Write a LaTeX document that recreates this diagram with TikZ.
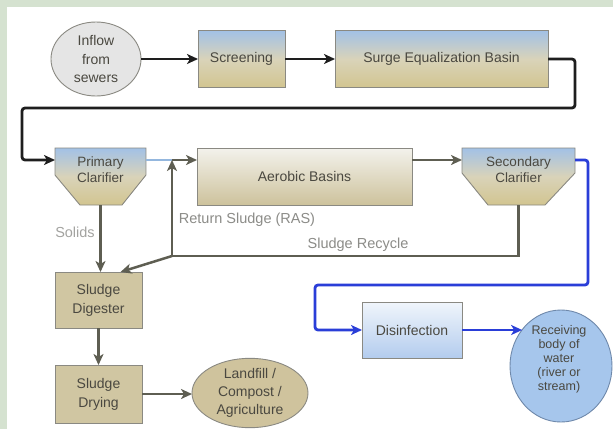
\documentclass[tikz,border=0pt]{standalone}
\usepackage{fontspec}
\setmainfont{Liberation Sans}
\usetikzlibrary{arrows.meta,calc,shapes.geometric}
\definecolor{bggreen}{HTML}{D5E2D0}
\definecolor{boxborder}{HTML}{8A8982}
\definecolor{txt}{HTML}{4A4840}
\definecolor{lblc}{HTML}{8C8C88}
\definecolor{skyb}{HTML}{A2C1E6}
\definecolor{khaki}{HTML}{D2C590}
\definecolor{khakimid}{HTML}{D9D3B9}
\definecolor{sludgefill}{HTML}{D0C6A2}
\definecolor{cblack}{HTML}{1E1E1E}
\definecolor{cgray}{HTML}{5E5E52}
\definecolor{cblue}{HTML}{2A3ED8}
\definecolor{paleblue}{HTML}{94B7DE}
\definecolor{recfill}{HTML}{A6C6EC}
\definecolor{recborder}{HTML}{6E88AA}
\definecolor{inflowfill}{HTML}{E5E5E5}
\definecolor{aerotop}{HTML}{F3F2EC}
\definecolor{aerobot}{HTML}{CDC29C}
\definecolor{distop}{HTML}{F0F5FB}
\definecolor{disbot}{HTML}{B3CCEE}
\definecolor{landfill}{HTML}{CFC39D}
\begin{document}
\begin{tikzpicture}[x=1pt,y=-1pt,
  every node/.style={inner sep=0pt, outer sep=0pt, align=center, text=txt,
    font=\fontsize{14}{17}\selectfont},
  procbox/.style={rectangle, draw=boxborder, line width=0.9pt,
    top color=skyb, bottom color=khaki, middle color=khakimid},
  aerobox/.style={rectangle, draw=boxborder, line width=0.9pt,
    top color=aerotop, bottom color=aerobot},
  sludgebox/.style={rectangle, draw=boxborder, line width=0.9pt, fill=sludgefill},
  disbox/.style={rectangle, draw=boxborder, line width=0.9pt,
    top color=distop, bottom color=disbot},
  clarframe/.style={rectangle},
  clarfill/.style={draw=boxborder, line width=0.9pt,
    top color=skyb, bottom color=khaki, middle color=khakimid},
  clartext/.style={font=\fontsize{13.5}{16}\selectfont},
  inflowstyle/.style={ellipse, draw=boxborder, line width=0.9pt, fill=inflowfill,
    font=\fontsize{14}{18.5}\selectfont},
  landstyle/.style={ellipse, draw=boxborder, line width=0.9pt, fill=landfill,
    font=\fontsize{14}{18}\selectfont},
  recstyle/.style={ellipse, draw=recborder, line width=0.9pt, fill=recfill},
  rectext/.style={font=\fontsize{12.5}{14}\selectfont},
  blackflow/.style={draw=cblack, line width=2.8pt, rounded corners=3pt},
  grayflow/.style={draw=cgray, line width=2.5pt},
  blueflow/.style={draw=cblue, line width=2.8pt, rounded corners=3pt},
  paleflow/.style={draw=paleblue, line width=2.2pt},
  tip/.style={-{Stealth[length=11pt,width=10pt,inset=3pt]}},
  lbl/.style={text=lblc, font=\fontsize{14.5}{17}\selectfont}
]
\useasboundingbox (0,0) rectangle (613,429);
\fill[bggreen] (0,0) rectangle (613,429);
\fill[white] (7,7) rectangle (613,429);

% top row
\node[inflowstyle, minimum width=90pt, minimum height=74pt] (inflow) at (96,59) {Inflow\\from\\sewers};
\node[procbox, minimum width=87pt, minimum height=57pt] (scr) at (241.5,59) {Screening};
\node[procbox, minimum width=213pt, minimum height=57pt] (surge) at (441.5,59) {Surge Equalization Basin};

% second row
\node[clarframe, minimum width=91pt, minimum height=57pt] (pri) at (100.5,176.5) {};
\path[clarfill] (pri.north west) -- (pri.north east) -- ($(pri.north east)+(0,27)$)
  -- ($(pri.south east)+(-24,0)$) -- ($(pri.south west)+(25,0)$)
  -- ($(pri.north west)+(0,27)$) -- cycle;
\node[clartext] (pritxt) at ($(pri.north)+(0,22)$) {Primary\\Clarifier};

\node[aerobox, minimum width=215pt, minimum height=57pt] (aer) at (304.5,176.5) {Aerobic Basins};

\node[clarframe, minimum width=113pt, minimum height=57pt] (sec) at (518.5,176.5) {};
\path[clarfill] (sec.north west) -- (sec.north east) -- ($(sec.north east)+(0,25)$)
  -- ($(sec.south east)+(-30,0)$) -- ($(sec.south west)+(26,0)$)
  -- ($(sec.north west)+(0,25)$) -- cycle;
\node[clartext] (sectxt) at ($(sec.north)+(0,22)$) {Secondary\\Clarifier};

% sludge column
\node[sludgebox, minimum width=87pt, minimum height=56pt, font=\fontsize{14}{19}\selectfont] (dig) at (98.5,300) {Sludge\\Digester};
\node[sludgebox, minimum width=87pt, minimum height=58pt, font=\fontsize{14}{19}\selectfont] (dry) at (98.5,394) {Sludge\\Drying};
\node[landstyle, minimum width=116pt, minimum height=68pt] (land) at (250,393) {Landfill /\\Compost /\\Agriculture};

% effluent
\node[disbox, minimum width=100pt, minimum height=56pt] (dis) at (412,330) {Disinfection};
\node[recstyle, minimum width=102pt, minimum height=112pt] (rec) at (561,366) {};
\node[rectext] (rectxt) at (559,359) {Receiving\\body of\\water\\(river or\\stream)};

% bend points
\coordinate (bendR) at (575,108);
\coordinate (bendL) at (22,108);
\coordinate (ras) at (172,160);
\coordinate (rasbot) at (172,256);
\coordinate (blueR) at (588,285);
\coordinate (blueL) at (315,285);

% connectors
\draw[blackflow, tip] (inflow.east) -- (scr.west);
\draw[blackflow, tip] (scr.east) -- (surge.west);
\draw[blackflow, tip] (surge.east) -| (bendR) -- (bendL) |- ($(pri.north west)+(0,12)$);

\draw[paleflow] ($(pri.north east)+(0,12)$) -- (ras);
\draw[grayflow, tip] (ras) -- ($(aer.north west)+(0,12)$);
\draw[grayflow, tip] ($(aer.north east)+(0,12)$) -- ($(sec.north west)+(0,12)$);

\draw[grayflow] (sec.south) |- (rasbot);
\draw[grayflow, tip] (rasbot) -- (ras);
\draw[grayflow, tip] (rasbot) -- ($(dig.north)+(22,0)$);

\draw[grayflow, tip] (pri.south) -- (pri.south |- dig.north);
\draw[grayflow, tip] (dig.south) -- (dry.north);
\draw[grayflow, tip] (dry.east) -- (dry.east -| land.west);

\draw[blueflow, tip] ($(sec.north east)+(0,12)$) -| (blueR) -- (blueL) |- (dis.west);
\draw[blueflow, tip] (dis.east) -- (dis.east -| rec.137);

% labels
\node[lbl, text=lblc!80] (solids) at (75,232) {Solids};
\node[lbl] (raslbl) at (247,220) {Return Sludge (RAS)};
\node[lbl] (reclbl) at (358,245) {Sludge Recycle};
\end{tikzpicture}
\end{document}
